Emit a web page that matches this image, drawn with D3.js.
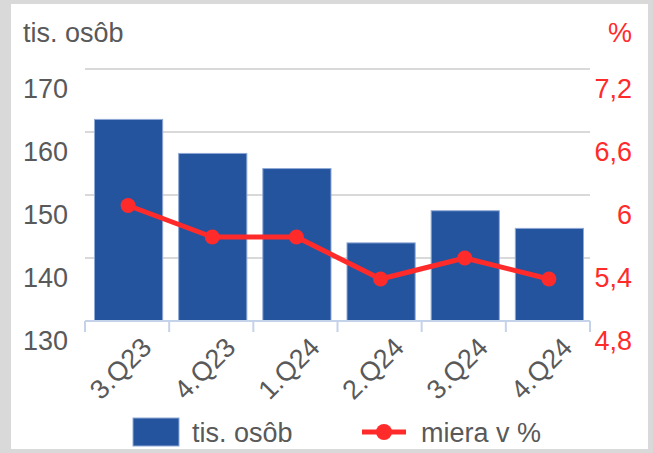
<!DOCTYPE html>
<html>
<head>
<meta charset="utf-8">
<script src="https://cdn.jsdelivr.net/npm/d3@7/dist/d3.min.js"></script>
<style>
  body { margin: 0; background: #d9d9d9; }
  svg { display: block; font-family: "Liberation Sans", Arial, sans-serif; }
</style>
</head>
<body>
<svg id="chart" width="653" height="453"></svg>
<script>
// data
var categories = ["3.Q23", "4.Q23", "1.Q24", "2.Q24", "3.Q24", "4.Q24"];
var persons = [162.0, 156.6, 154.2, 142.4, 147.5, 144.7];   // tis. osôb
var rate = [5.9, 5.6, 5.6, 5.2, 5.4, 5.2];                   // miera v %
var leftTicks = [130, 140, 150, 160, 170];
var rightTicks = [4.8, 5.4, 6.0, 6.6, 7.2];

var svg = d3.select("#chart"),
    width = +svg.attr("width"),
    height = +svg.attr("height");

var blue = "#25549f",
    red = "#ff2b2b",
    grey = "#595959";

// white panel inside the grey frame
svg.append("rect")
   .attr("x", 11).attr("y", 4)
   .attr("width", 637).attr("height", 445)
   .attr("fill", "#fff");

var plot = { left: 85, right: 590, top: 69, bottom: 321 };

var x = d3.scaleBand()
          .domain(categories)
          .range([plot.left + 1.5, plot.right + 1.5])
          .paddingInner(0.19)
          .paddingOuter(0.095);

var xBand = d3.scaleBand().domain(categories).range([plot.left, plot.right]);

var yLeft = d3.scaleLinear().domain([130, 170]).range([plot.bottom, plot.top]);
var yRight = d3.scaleLinear().domain([4.8, 7.2]).range([plot.bottom, plot.top]);

// gridlines
svg.append("g")
   .selectAll("line")
   .data(leftTicks.slice(1))
   .enter().append("line")
           .attr("x1", plot.left)
           .attr("x2", plot.right)
           .attr("y1", function(d) { return yLeft(d); })
           .attr("y2", function(d) { return yLeft(d); })
           .attr("stroke", "#d9d9d9")
           .attr("stroke-width", 2);

// left axis labels (sit a bit below their gridline, like the original)
svg.append("g")
   .selectAll("text")
   .data(leftTicks)
   .enter().append("text")
           .attr("x", 68)
           .attr("y", function(d) { return yLeft(d) + 20; })
           .attr("text-anchor", "end")
           .attr("dominant-baseline", "central")
           .attr("font-size", 27)
           .attr("fill", grey)
           .text(function(d) { return d; });

// right axis labels
var fmt = function(d) { return d3.format(".1~f")(d).replace(".", ","); };
svg.append("g")
   .selectAll("text")
   .data(rightTicks)
   .enter().append("text")
           .attr("x", 632)
           .attr("y", function(d) { return yRight(d) + 20; })
           .attr("text-anchor", "end")
           .attr("dominant-baseline", "central")
           .attr("font-size", 27)
           .attr("fill", red)
           .text(fmt);

// unit titles
svg.append("text")
   .attr("x", 23).attr("y", 42)
   .attr("font-size", 27)
   .attr("fill", grey)
   .text("tis. osôb");
svg.append("text")
   .attr("x", 632).attr("y", 42)
   .attr("text-anchor", "end")
   .attr("font-size", 27)
   .attr("fill", red)
   .text("%");

// bars
svg.append("g")
   .selectAll("rect")
   .data(persons)
   .enter().append("rect")
           .attr("x", function(d, i) { return x(categories[i]); })
           .attr("y", function(d) { return yLeft(d); })
           .attr("width", x.bandwidth())
           .attr("height", function(d) { return plot.bottom - yLeft(d); })
           .attr("fill", blue)
           .attr("stroke", "#8fa9d6")
           .attr("stroke-width", 1);

// category axis
var axis = svg.append("g").attr("class", "x-axis");
axis.append("line")
    .attr("x1", plot.left).attr("x2", plot.right)
    .attr("y1", plot.bottom).attr("y2", plot.bottom)
    .attr("stroke", "#c5d3ea")
    .attr("stroke-width", 2);
axis.selectAll("line.tick")
    .data(categories.concat(["end"]))
    .enter().append("line")
            .attr("class", "tick")
            .attr("x1", function(d, i) { return plot.left + i * xBand.bandwidth(); })
            .attr("x2", function(d, i) { return plot.left + i * xBand.bandwidth(); })
            .attr("y1", plot.bottom)
            .attr("y2", plot.bottom + 11)
            .attr("stroke", "#c5d3ea")
            .attr("stroke-width", 2);
axis.selectAll("text")
    .data(categories)
    .enter().append("text")
            .attr("transform", function(d) {
                var cx = xBand(d) + xBand.bandwidth() / 2 + 26;
                return "translate(" + cx + ",349) rotate(-45)";
            })
            .attr("text-anchor", "end")
            .attr("font-size", 27)
            .attr("fill", grey)
            .text(function(d) { return d; });

// rate line
var cxOf = function(i) { return xBand(categories[i]) + xBand.bandwidth() / 2 + 1; };
var line = d3.line()
             .x(function(d, i) { return cxOf(i); })
             .y(function(d) { return yRight(d); });

svg.append("path")
   .datum(rate)
   .attr("d", line)
   .attr("fill", "none")
   .attr("stroke", red)
   .attr("stroke-width", 5)
   .attr("stroke-linejoin", "round");

svg.append("g")
   .selectAll("circle")
   .data(rate)
   .enter().append("circle")
           .attr("cx", function(d, i) { return cxOf(i); })
           .attr("cy", function(d) { return yRight(d); })
           .attr("r", 7.5)
           .attr("fill", red);

// legend
var legend = svg.append("g");
legend.append("rect")
      .attr("x", 133).attr("y", 418)
      .attr("width", 46).attr("height", 28)
      .attr("fill", blue)
      .attr("stroke", "#8fa9d6");
legend.append("text")
      .attr("x", 192).attr("y", 442)
      .attr("font-size", 27)
      .attr("fill", grey)
      .text("tis. osôb");
legend.append("line")
      .attr("x1", 362).attr("x2", 406)
      .attr("y1", 432).attr("y2", 432)
      .attr("stroke", red)
      .attr("stroke-width", 5);
legend.append("circle")
      .attr("cx", 384).attr("cy", 432)
      .attr("r", 8)
      .attr("fill", red);
legend.append("text")
      .attr("x", 421).attr("y", 442)
      .attr("font-size", 27)
      .attr("fill", grey)
      .text("miera v %");
</script>
</body>
</html>
